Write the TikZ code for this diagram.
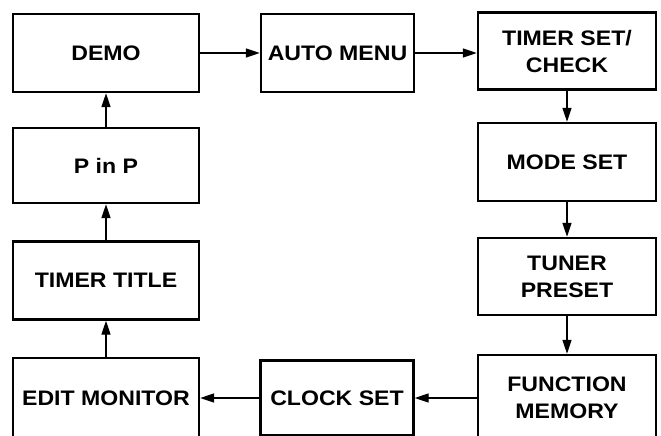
\documentclass[tikz,border=0pt]{standalone}
\usepackage{fontspec}
\setmainfont[FakeStretch=1.1]{Liberation Sans}
\usetikzlibrary{arrows.meta}

\begin{document}
\begin{tikzpicture}[
        x=1pt, y=-1pt,
        >={Triangle[length=14pt,width=9pt]},
        menunode/.style={rectangle, draw=black, line width=2.4pt, minimum height=78pt, inner sep=0pt, align=center, font=\fontsize{21}{27}\selectfont\bfseries},
        leftnode/.style={menunode, minimum width=186pt},
        midnode/.style={menunode, minimum width=153pt},
        rightnode/.style={menunode, minimum width=178pt}
    ]
        \useasboundingbox (0,0) rectangle (661,436);
        \clip (0,0) rectangle (661,436);

        % Left column
        \node [leftnode] (Demo) at (106,53) {DEMO};
        \node [leftnode, minimum height=75pt] (PinP) at (106,165.5) {P in P};
        \node [leftnode] (TimerTitle) at (106,280.5) {TIMER TITLE};
        \node [leftnode, minimum height=80pt] (EditMonitor) at (106,398) {EDIT MONITOR};

        % Middle column
        \node [midnode] (AutoMenu) at (337.5,53) {AUTO MENU};
        \node [midnode, minimum height=75pt] (ClockSet) at (337,398) {CLOCK SET};

        % Right column
        \node [rightnode, minimum height=77pt] (TimerSet) at (567,51) {TIMER SET/\\CHECK};
        \node [rightnode] (ModeSet) at (567,162) {MODE SET};
        \node [rightnode, minimum height=77pt] (TunerPreset) at (567,276.5) {TUNER\\PRESET};
        \node [rightnode, minimum height=86pt] (FunctionMemory) at (567,398) {FUNCTION\\MEMORY};

        % Arrows round the menu
        \draw[->,line width=1.4pt] (Demo.east) -- (AutoMenu.west);
        \draw[->,line width=1.4pt] (AutoMenu.east) -- (AutoMenu.east -| TimerSet.west);
        \draw[->,line width=1.4pt] (TimerSet) -- (ModeSet);
        \draw[->,line width=1.4pt] (ModeSet) -- (TunerPreset);
        \draw[->,line width=1.4pt] (TunerPreset) -- (FunctionMemory);
        \draw[->,line width=1.4pt] (FunctionMemory.west) -- (ClockSet.east);
        \draw[->,line width=1.4pt] (ClockSet.west) -- (EditMonitor.east);
        \draw[->,line width=1.4pt] (EditMonitor) -- (TimerTitle);
        \draw[->,line width=1.4pt] (TimerTitle) -- (PinP);
        \draw[->,line width=1.4pt] (PinP) -- (Demo);

    \end{tikzpicture}
\end{document}
